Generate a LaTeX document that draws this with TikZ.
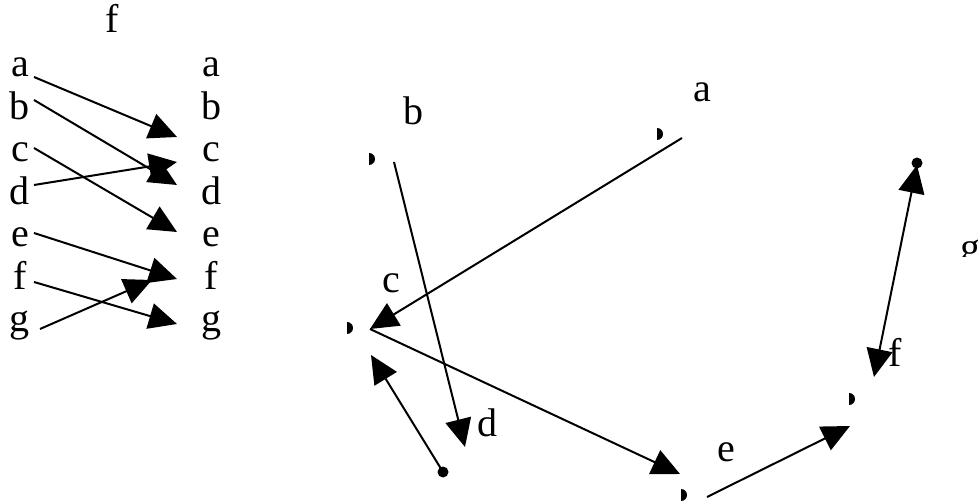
\documentclass[tikz,border=0pt]{standalone}
\usepackage{fontspec}
\setmainfont{Liberation Serif}
\usetikzlibrary{arrows.meta}

\tikzset{
  lbl/.style={font=\fontsize{20}{22}\selectfont, inner sep=0pt, anchor=base},
  map/.style={line width=1pt, -{Triangle[length=14pt,width=13pt]}},
  dmap/.style={line width=1pt, {Triangle[length=14pt,width=13pt]}-{Triangle[length=14pt,width=13pt]}},
}
\newcommand{\halfdot}[1]{\fill (#1) ++(0,-6) arc (-90:90:6) -- cycle;}

\begin{document}
\begin{tikzpicture}[x=0.5pt,y=-0.5pt]
    \useasboundingbox (0,0) rectangle (978,501);

    % Mapping f as two columns
    \node[lbl] (title) at (112,33) {f};
    \foreach \n [count=\i] in {a,b,c,d,e,f,g} {
        \node[lbl] (l\n) at (20,34.5+42.5*\i) {\n};
        \node[lbl] (r\n) at (211,34.5+42.5*\i) {\n};
    }

    % Arrow ends
    \coordinate (oa) at (34,77);   \coordinate (ia) at (177,137);
    \coordinate (ob) at (34,100);  \coordinate (ib) at (177,185);
    \coordinate (oc) at (34,148);  \coordinate (ic) at (177,232);
    \coordinate (od) at (34,185);  \coordinate (id) at (177,162);
    \coordinate (oe) at (34,233);  \coordinate (ie) at (177,279);
    \coordinate (of) at (34,282);  \coordinate (if) at (177,324);
    \coordinate (og) at (40,329);  \coordinate (ig) at (152,280);
    \foreach \n in {a,b,c,d,e,f,g}
        \draw[map] (o\n) -- (i\n);

    % Same mapping as a graph
    \coordinate (va) at (657,134);
    \coordinate (vb) at (369,159);
    \coordinate (vc) at (347,328);
    \coordinate (vd) at (443,472);
    \coordinate (ve) at (681,495);
    \coordinate (vf) at (849,399);
    \coordinate (vg) at (917,163);

    \halfdot{va}
    \halfdot{vb}
    \halfdot{vc}
    \halfdot{ve}
    \halfdot{vf}
    \fill (vd) circle (5.5);
    \fill (vg) circle (5.5);

    \node[lbl] (na) at (702,102) {a};
    \node[lbl] (nb) at (413,125) {b};
    \node[lbl] (nc) at (391,293) {c};
    \node[lbl] (nd) at (487,437) {d};
    \node[lbl] (ne) at (726,461) {e};
    \node[lbl] (nf) at (895,367) {f};
    \begin{scope}
        \clip (950,230) rectangle (978,257);
        \node[lbl] (ng) at (970,261) {g};
    \end{scope}

    % Edges
    \coordinate (ao) at (682,138);
    \coordinate (bo) at (394,162);
    \coordinate (co) at (370,329);
    \coordinate (cd) at (371,355);
    \coordinate (dt) at (465,447);
    \coordinate (et) at (680,474);
    \coordinate (eo) at (707,497);
    \coordinate (ft) at (850,426);
    \coordinate (fg) at (874,377);
    \coordinate (gt) at (917,165);

    \draw[map] (ao) -- (co);
    \draw[map] (bo) -- (dt);
    \draw[map] (co) -- (et);
    \draw[map] (vd) -- (cd);
    \draw[map] (eo) -- (ft);
    \draw[dmap] (fg) -- (gt);
\end{tikzpicture}
\end{document}
